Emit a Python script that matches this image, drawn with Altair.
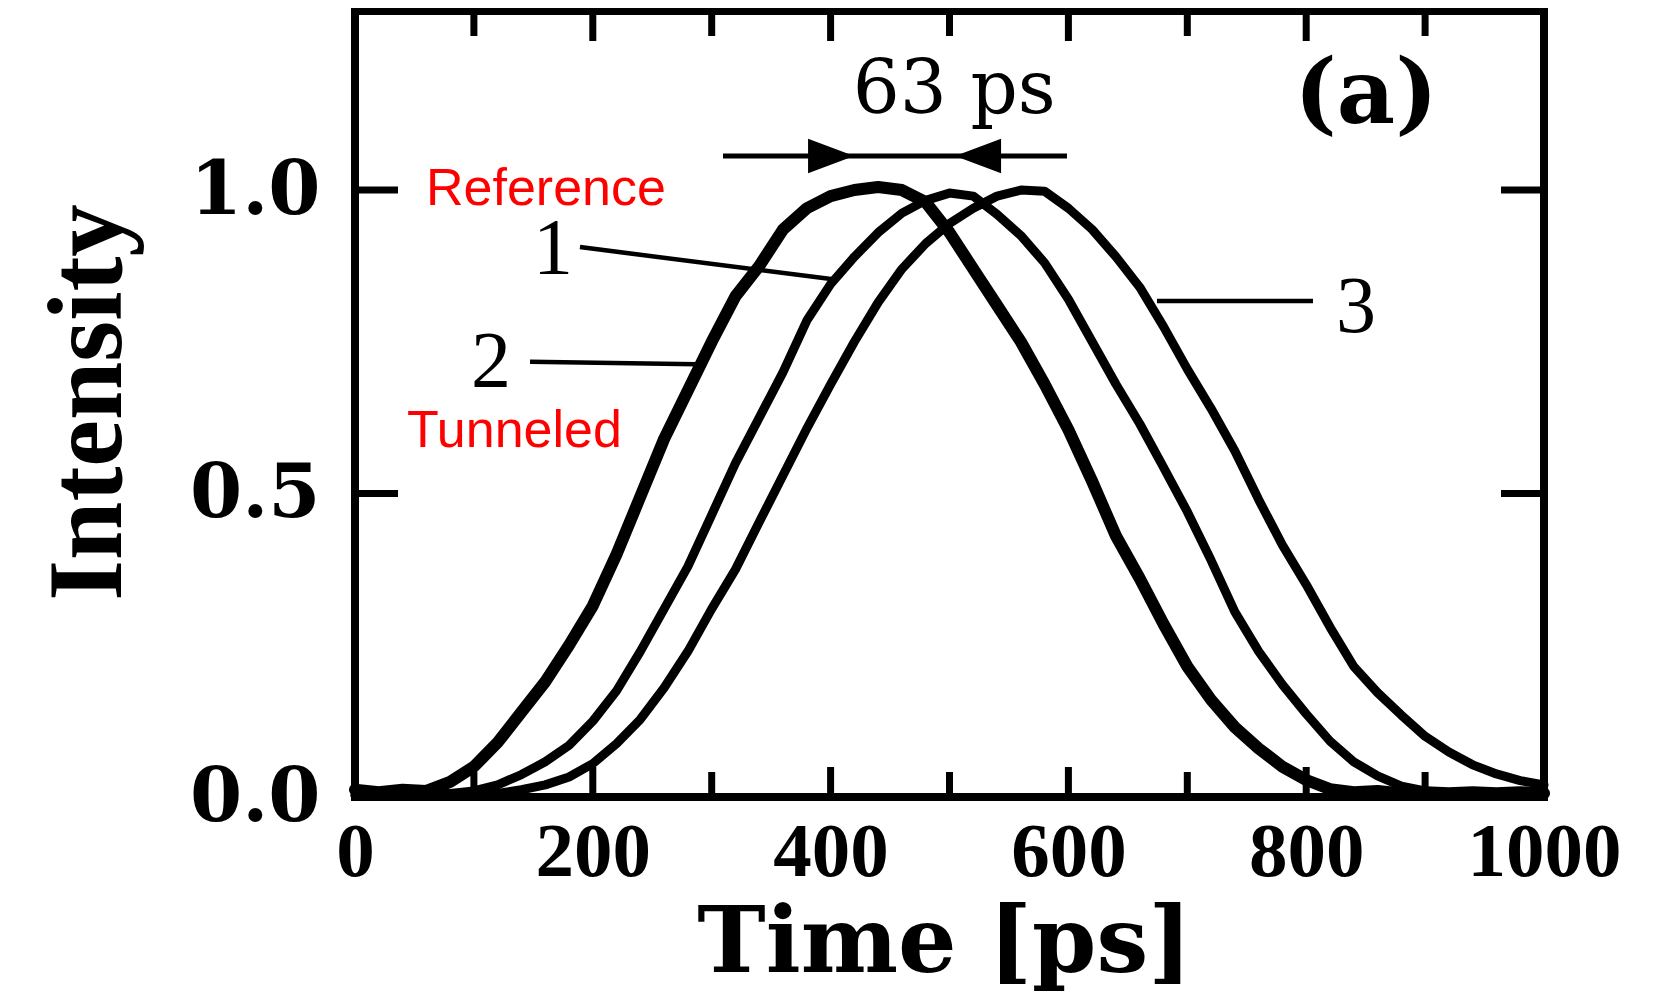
import altair as alt
import pandas as pd

# ---------------- data ----------------
time_ps = [0, 20, 40, 60, 80, 100, 120, 140, 160, 180, 200, 220, 240, 260, 280, 300,
           320, 340, 360, 380, 400, 420, 440, 460, 480, 500, 520, 540, 560, 580, 600,
           620, 640, 660, 680, 700, 720, 740, 760, 780, 800, 820, 840, 860, 880, 900,
           920, 940, 960, 980, 1000]

tunneled_2 = [0.012, 0.008, 0.012, 0.010, 0.025, 0.050, 0.090, 0.140, 0.190, 0.250, 0.315,
              0.400, 0.495, 0.590, 0.670, 0.750, 0.825, 0.875, 0.935, 0.970, 0.990, 1.000,
              1.005, 1.000, 0.980, 0.930, 0.870, 0.810, 0.750, 0.680, 0.605, 0.520, 0.430,
              0.360, 0.285, 0.215, 0.160, 0.115, 0.080, 0.050, 0.028, 0.013, 0.008, 0.010,
              0.006, 0.008, 0.006, 0.008, 0.006, 0.008, 0.006]

reference_1 = [0.003, 0.003, 0.003, 0.004, 0.006, 0.010, 0.020, 0.037, 0.058, 0.085, 0.125,
               0.175, 0.240, 0.310, 0.380, 0.465, 0.550, 0.625, 0.700, 0.785, 0.845, 0.890,
               0.930, 0.962, 0.983, 0.995, 0.990, 0.960, 0.925, 0.880, 0.820, 0.750, 0.680,
               0.615, 0.543, 0.470, 0.390, 0.305, 0.240, 0.185, 0.137, 0.092, 0.058, 0.035,
               0.018, 0.010, 0.006, 0.005, 0.004, 0.004, 0.004]

pulse_3 = [0.003, 0.003, 0.003, 0.003, 0.003, 0.003, 0.006, 0.012, 0.020, 0.033, 0.055,
           0.088, 0.128, 0.180, 0.240, 0.310, 0.375, 0.453, 0.530, 0.607, 0.680, 0.750,
           0.815, 0.870, 0.912, 0.945, 0.970, 0.990, 1.000, 0.998, 0.970, 0.935, 0.890,
           0.840, 0.775, 0.705, 0.640, 0.570, 0.490, 0.415, 0.350, 0.280, 0.215, 0.172,
           0.135, 0.100, 0.074, 0.053, 0.038, 0.027, 0.020]

x_major_ticks = [200, 400, 600, 800]
x_minor_ticks = [100, 300, 500, 700, 900]
y_tick_values = [0.5, 1.0]
x_label_values = [0, 200, 400, 600, 800, 1000]
y_label_values = [0.0, 0.5, 1.0]

curve_labels = ["1", "2", "3"]
curve_label_t = [166.5, 114.4, 841.9]
curve_label_v = [0.862, 0.675, 0.766]

leader_t1 = [189.2, 147.2, 674.5]
leader_v1 = [0.906, 0.717, 0.817]
leader_t2 = [402.0, 287.6, 805.7]
leader_v2 = [0.853, 0.713, 0.817]

red_labels = ["Reference", "Tunneled"]
red_label_t = [59.7, 43.7]
red_label_v = [0.975, 0.577]

delay_label = ["63 ps"]
delay_label_t = [504.0]
delay_label_v = [1.127]
delay_arrow_t = [309.5, 598.8]
delay_arrow_v = [1.056, 1.056]
arrowhead_t = [400.4, 524.0]
arrowhead_v = [1.056, 1.056]
arrowhead_dir = ["right", "left"]

panel_label = ["(a)"]
panel_label_t = [850.3]
panel_label_v = [1.110]

# ---------------- tables ----------------
curves = pd.DataFrame({
    "t": time_ps * 3,
    "v": tunneled_2 + reference_1 + pulse_3,
    "series": ["2"] * len(time_ps) + ["1"] * len(time_ps) + ["3"] * len(time_ps),
})
major_df = pd.DataFrame({"t": x_major_ticks})
minor_df = pd.DataFrame({"t": x_minor_ticks})
ytick_df = pd.DataFrame({"v": y_tick_values})
num_df = pd.DataFrame({"t": curve_label_t, "v": curve_label_v, "label": curve_labels})
leader_df = pd.DataFrame({"t": leader_t1, "v": leader_v1, "t2": leader_t2, "v2": leader_v2})
red_df = pd.DataFrame({"t": red_label_t, "v": red_label_v, "label": red_labels})
delay_df = pd.DataFrame({"t": delay_label_t, "v": delay_label_v, "label": delay_label})
arrow_line_df = pd.DataFrame({"t": [delay_arrow_t[0]], "t2": [delay_arrow_t[1]], "v": [delay_arrow_v[0]]})
head_df = pd.DataFrame({"t": arrowhead_t, "v": arrowhead_v, "dir": arrowhead_dir})
panel_df = pd.DataFrame({"t": panel_label_t, "v": panel_label_v, "label": panel_label})

W, H = 1189, 786
xs = alt.Scale(domain=[0, 1000], nice=False, zero=False)
ys = alt.Scale(domain=[0, 1.295], nice=False, zero=False)

x_axis = alt.Axis(
    values=x_label_values, format="d", ticks=False, tickSize=0, domain=False, grid=False,
    labelFont="Liberation Serif", labelFontSize=77, labelFontWeight="bold", labelColor="black",
    labelPadding=17, labelBaseline="top", labelFlush=False, labelOverlap=False,
    title="Time [ps]", titleFont="DejaVu Serif", titleFontSize=92, titleFontWeight="bold",
    titleColor="black", titleX=589, titleY=174, titleAlign="center", titleBaseline="alphabetic",
)
y_axis = alt.Axis(
    values=y_label_values, format=".1f", ticks=False, tickSize=0, domain=False, grid=False,
    labelFont="DejaVu Serif", labelFontSize=75, labelFontWeight="bold", labelColor="black",
    labelPadding=35, labelBaseline="middle", labelAlign="right", labelFlush=False, labelOverlap=False,
    title="Intensity", titleFont="Liberation Serif", titleFontSize=105, titleFontWeight="bold",
    titleColor="black", titleAngle=270, titleX=-235, titleY=391, titleAlign="center",
    titleBaseline="alphabetic",
)

X = alt.X("t:Q", scale=xs, axis=x_axis)
Y = alt.Y("v:Q", scale=ys, axis=y_axis)

thin_curves = alt.Chart(curves).transform_filter(alt.datum.series != "2").mark_line(
    color="black", strokeWidth=9, strokeJoin="round", strokeCap="round").encode(
    x=X, y=Y, detail="series:N")
thick_curve = alt.Chart(curves).transform_filter(alt.datum.series == "2").mark_line(
    color="black", strokeWidth=12, strokeJoin="round", strokeCap="round").encode(
    x=X, y=Y, detail="series:N")

bottom_major = alt.Chart(major_df).mark_rule(color="black", strokeWidth=7).encode(
    x=X, y=alt.value(H - 30), y2=alt.value(H))
bottom_minor = alt.Chart(minor_df).mark_rule(color="black", strokeWidth=7).encode(
    x=X, y=alt.value(H - 25), y2=alt.value(H))
top_major = alt.Chart(major_df).mark_rule(color="black", strokeWidth=7).encode(
    x=X, y=alt.value(0), y2=alt.value(30))
top_minor = alt.Chart(minor_df).mark_rule(color="black", strokeWidth=7).encode(
    x=X, y=alt.value(0), y2=alt.value(25))
left_ticks = alt.Chart(ytick_df).mark_rule(color="black", strokeWidth=7).encode(
    y=Y, x=alt.value(0), x2=alt.value(43))
right_ticks = alt.Chart(ytick_df).mark_rule(color="black", strokeWidth=7).encode(
    y=Y, x=alt.value(W - 43), x2=alt.value(W))

leaders = alt.Chart(leader_df).mark_rule(color="black", strokeWidth=4.5).encode(
    x=X, y=Y, x2="t2:Q", y2="v2:Q")
arrow_line = alt.Chart(arrow_line_df).mark_rule(color="black", strokeWidth=5).encode(
    x=X, x2="t2:Q", y=Y)
heads = alt.Chart(head_df).mark_point(filled=True, color="black", opacity=1, size=2116,
                                      strokeWidth=0).encode(
    x=X, y=Y,
    shape=alt.Shape("dir:N", scale=alt.Scale(domain=["right", "left"],
                                             range=["M-1,-0.75L1,0L-1,0.75Z", "M1,-0.75L-1,0L1,0.75Z"]),
                    legend=None))

num_text = alt.Chart(num_df).mark_text(font="Liberation Serif", fontSize=80, color="black",
                                       align="center", baseline="alphabetic").encode(
    x=X, y=Y, text="label:N")
red_text = alt.Chart(red_df).mark_text(font="Liberation Sans", fontSize=52, color="#ff0000",
                                       align="left", baseline="alphabetic").encode(
    x=X, y=Y, text="label:N")
delay_text = alt.Chart(delay_df).mark_text(font="DejaVu Serif", fontSize=74, color="black",
                                           align="center", baseline="alphabetic").encode(
    x=X, y=Y, text="label:N")
panel_text = alt.Chart(panel_df).mark_text(font="DejaVu Serif", fontSize=90, fontWeight="bold",
                                           color="black", align="center", baseline="alphabetic").encode(
    x=X, y=Y, text="label:N")

chart = alt.layer(
    thin_curves, thick_curve, bottom_major, bottom_minor, top_major, top_minor,
    left_ticks, right_ticks, leaders, arrow_line, heads, num_text, red_text, delay_text, panel_text,
).properties(
    width=W, height=H,
    padding={"left": 347, "top": 3, "right": 100, "bottom": 205},
    autosize=alt.AutoSizeParams(type="none"),
    background="white",
).configure_view(stroke="black", strokeWidth=8)

chart.save("out.html", embed_options={"renderer": "svg", "actions": False})
